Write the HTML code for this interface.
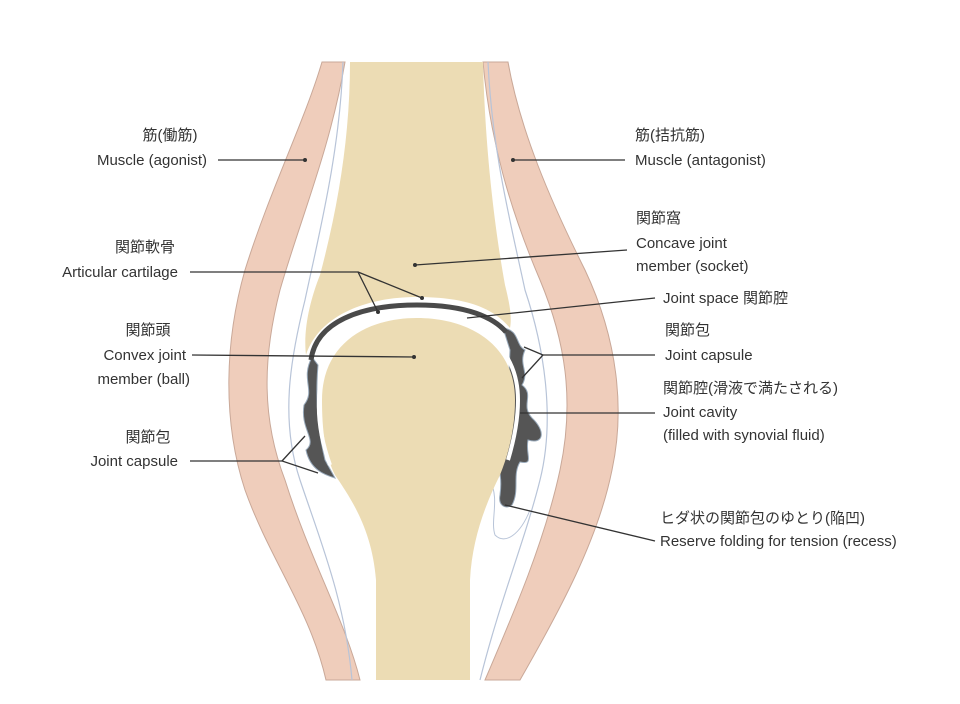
<!DOCTYPE html>
<html><head><meta charset="utf-8"><style>
body{margin:0;background:#fff;}
svg{display:block}
text{font-family:"Liberation Sans","Noto Sans CJK JP",sans-serif;font-size:15px;fill:#333;}
</style></head><body>
<svg width="960" height="704" viewBox="0 0 960 704" xmlns="http://www.w3.org/2000/svg">
<!-- muscles -->
<path d="M322,62 L345,62 C330,150 300,220 280,290 C262,360 262,420 285,480 C310,560 345,620 360,680 L326,680 C310,610 270,560 245,490 C222,420 225,340 245,270 C270,190 305,120 322,62 Z" fill="#efcdbb" stroke="#c9a898" stroke-width="1"/>
<path d="M483,62 L508,62 C520,130 550,200 585,270 C618,340 625,410 612,470 C598,540 560,610 520,680 L485,680 C515,610 545,540 560,470 C575,400 565,340 540,280 C510,210 490,140 483,62 Z" fill="#efcdbb" stroke="#c9a898" stroke-width="1"/>
<!-- blue guide lines -->
<path d="M343,62 C340,150 320,230 305,300 C290,360 280,420 300,480 C320,540 345,600 352,680" fill="none" stroke="#b8c4d8" stroke-width="1.2"/>
<path d="M488,62 C492,150 510,220 525,290 C545,350 555,420 540,480 C525,540 500,600 480,680" fill="none" stroke="#b8c4d8" stroke-width="1.2"/>
<path d="M490,480 C500,500 490,520 495,535 C505,545 520,535 530,510" fill="none" stroke="#b8c4d8" stroke-width="1"/>
<!-- socket bone -->
<path d="M350,62 L483,62 C485,150 495,230 505,285 C510,305 512,318 510,328 C495,310 470,297 417,297 C362,297 318,318 306,355 C303,330 310,300 320,275 C340,200 350,130 350,62 Z" fill="#ecdcb4"/>
<!-- synovial dark -->
<path d="M312,357 C300,380 316,390 304,405 C300,430 318,440 306,450 C310,470 325,475 335,478 L325,460 C318,430 315,400 318,365 Z" fill="#555" stroke="#9ab" stroke-width="1"/>
<path d="M503,328 C520,330 515,345 525,350 C518,365 530,372 522,385 C535,395 520,405 532,418 C545,430 545,445 528,440 C525,455 535,465 520,462 C512,475 520,490 512,505 C505,510 498,505 500,495 C502,480 500,470 496,460 C505,430 508,400 510,350 Z" fill="#555" stroke="#9ab" stroke-width="1"/>
<!-- dark articular band -->
<path d="M311,360 C316,322 360,305 417,305 C468,305 494,318 506,332" fill="none" stroke="#4a4a4a" stroke-width="5"/>
<!-- ball bone -->
<path d="M322,400 C322,345 365,318 417,318 C470,318 515,345 515,400 C515,430 508,455 500,475 C485,505 472,540 470,580 L470,680 L376,680 L376,580 C372,530 352,500 335,475 C325,455 322,430 322,400 Z" fill="#ecdcb4"/>
<path d="M330,465 C321,440 318,420 319,400 C319,343 363,315 417,315 C472,315 518,343 518,400 C518,420 514,440 508,460" fill="none" stroke="#fff" stroke-width="4"/>
<!-- leader lines -->
<g stroke="#333" stroke-width="1.3" fill="none">
<line x1="218" y1="160" x2="305" y2="160"/>
<line x1="513" y1="160" x2="625" y2="160"/>
<line x1="415" y1="265" x2="627" y2="250"/>
<polyline points="190,272 358,272 378,312"/><line x1="358" y1="272" x2="422" y2="298"/>
<line x1="467" y1="318" x2="655" y2="298"/>
<line x1="192" y1="355" x2="414" y2="357"/>
<polyline points="524,347 543,355 522,378"/><line x1="543" y1="355" x2="655" y2="355"/>
<line x1="520" y1="413" x2="655" y2="413"/>
<polyline points="305,436 282,461 318,473"/><line x1="190" y1="461" x2="282" y2="461"/>
<line x1="505" y1="505" x2="655" y2="541"/>
</g>
<g fill="#333"><circle cx="305" cy="160" r="2"/><circle cx="513" cy="160" r="2"/><circle cx="415" cy="265" r="2"/><circle cx="414" cy="357" r="2"/><circle cx="378" cy="312" r="2"/><circle cx="422" cy="298" r="2"/></g>
<!-- labels -->
<text x="170" y="140" text-anchor="middle">筋(働筋)</text>
<text x="207" y="165" text-anchor="end">Muscle (agonist)</text>
<text x="635" y="140">筋(拮抗筋)</text>
<text x="635" y="165">Muscle (antagonist)</text>
<text x="636" y="223">関節窩</text>
<text x="636" y="248">Concave joint</text>
<text x="636" y="271">member (socket)</text>
<text x="145" y="252" text-anchor="middle">関節軟骨</text>
<text x="178" y="277" text-anchor="end">Articular cartilage</text>
<text x="663" y="303">Joint space 関節腔</text>
<text x="148" y="335" text-anchor="middle">関節頭</text>
<text x="186" y="360" text-anchor="end">Convex joint</text>
<text x="190" y="384" text-anchor="end">member (ball)</text>
<text x="665" y="335">関節包</text>
<text x="665" y="360">Joint capsule</text>
<text x="663" y="393">関節腔(滑液で満たされる)</text>
<text x="663" y="417">Joint cavity</text>
<text x="663" y="440">(filled with synovial fluid)</text>
<text x="148" y="442" text-anchor="middle">関節包</text>
<text x="178" y="466" text-anchor="end">Joint capsule</text>
<text x="660" y="523">ヒダ状の関節包のゆとり(陥凹)</text>
<text x="660" y="546">Reserve folding for tension (recess)</text>
</svg>
</body></html>
